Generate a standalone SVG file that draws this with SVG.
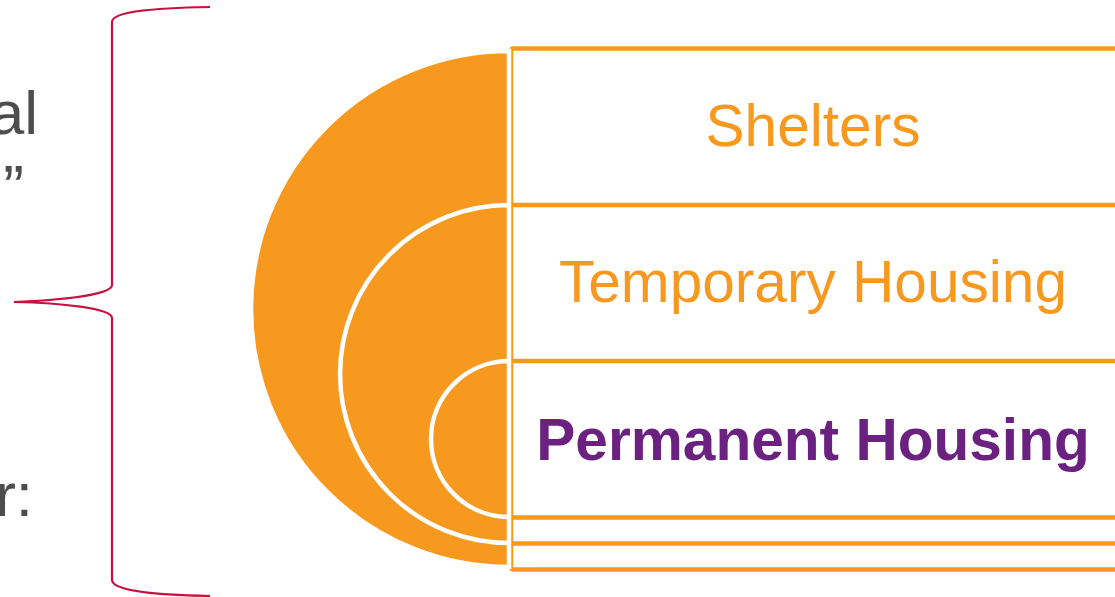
<svg xmlns="http://www.w3.org/2000/svg" width="1115" height="597" viewBox="0 0 1115 597">
<style>
.box{fill:#FFFFFF;stroke:#F7991F;stroke-width:4.5}
.disk{fill:#F7991F;stroke:#FFFFFF;stroke-width:4.5}
.lbl{font-family:"Liberation Sans",Arial,sans-serif;font-size:58.6px;text-anchor:middle}
.side{font-family:"Liberation Sans",Arial,sans-serif;font-size:62px;fill:#4D4D4F;text-anchor:end}
</style>
<rect width="1115" height="597" fill="#FFFFFF"/>
<g id="side-text">
<text class="side" x="38" y="134">al</text>
<text class="side" x="24" y="208">”</text>
<text class="side" x="33" y="516">r:</text>
</g>
<g id="connectors">
<path d="M210,7 C150,8 112,12 112,22 L112,285 C112,295 60,300 14,302 C60,303 112,308 112,318 L112,580 C112,590 150,595 210,596" fill="none" stroke="#C8103E" stroke-width="2.2"/>
</g>
<g id="shelters">
<rect class="box" x="511" y="48.5" width="640" height="521" rx="2"/>
<path class="disk" d="M509,51 A258,258 0 0 0 509,567 Z"/>
<text class="lbl" x="813" y="146" fill="#F7991F">Shelters</text>
</g>
<g id="temporary-housing">
<rect class="box" x="511" y="205" width="640" height="338.5" rx="2"/>
<path class="disk" d="M509,205 A169,169 0 0 0 509,543 Z"/>
<text class="lbl" x="813" y="302" fill="#F7991F">Temporary Housing</text>
</g>
<g id="permanent-housing">
<rect class="box" x="511" y="361" width="640" height="156.5" rx="2"/>
<path class="disk" d="M509,361 A78,78 0 0 0 509,517 Z"/>
<text class="lbl" x="813" y="460" fill="#6B2180" font-weight="bold">Permanent Housing</text>
</g>
</svg>
